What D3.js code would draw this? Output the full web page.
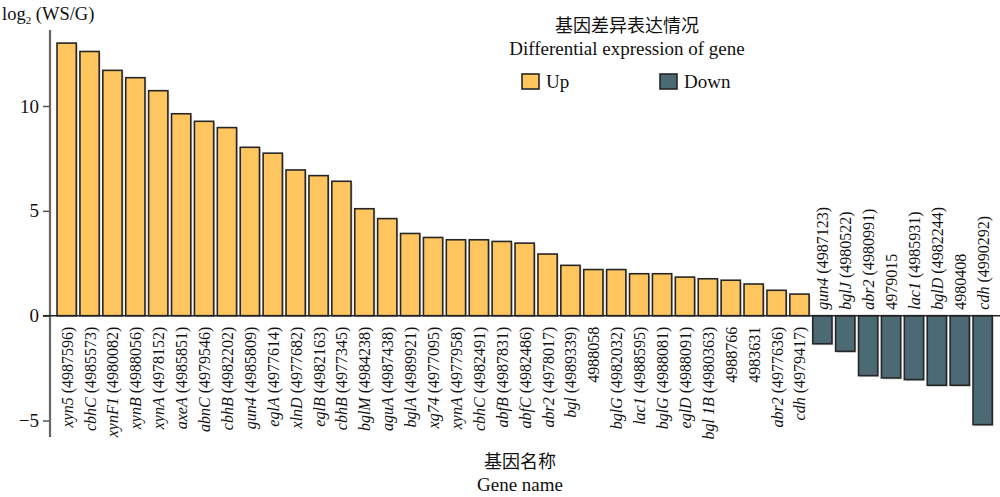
<!DOCTYPE html>
<html><head><meta charset="utf-8">
<script src="https://cdn.jsdelivr.net/npm/d3@7"></script>
<style>body{margin:0;background:#fff}svg{display:block}</style>
</head><body>
<svg id="c" width="1000" height="497"></svg>
<script>
const geneNames = ["xyn5","cbhC","xynF1","xynB","xynA","axeA","abnC","cbhB","gun4","eglA","xlnD","eglB","cbhB","bglM","aguA","bglA","xg74","xynA","cbhC","abfB","abfC","abr2","bgl","","bglG","lac1","bglG","eglD","bgl 1B","","","abr2","cdh",
  "gun4","bglJ","abr2","","lac1","bglD","","cdh"];
const geneIds = ["4987596","4985573","4980082","4988056","4978152","4985851","4979546","4982202","4985809","4977614","4977682","4982163","4977345","4984238","4987438","4989921","4977095","4977958","4982491","4987831","4982486","4978017","4989339","4988058","4982032","4988595","4988081","4988091","4980363","4988766","4983631","4977636","4979417",
  "4987123","4980522","4980991","4979015","4985931","4982244","4980408","4990292"];
const values = [13.0,12.6,11.7,11.35,10.73,9.63,9.27,8.97,8.03,7.75,6.95,6.68,6.41,5.1,4.63,3.92,3.73,3.62,3.62,3.54,3.46,2.94,2.40,2.2,2.2,2.0,2.0,1.84,1.76,1.69,1.51,1.21,1.03,
  -1.34,-1.70,-2.86,-2.97,-3.05,-3.32,-3.32,-5.2];
const yTicks = [-5,0,5,10];
const legendItems = ["Up","Down"];
const colors = {Up:"#FFC660", Down:"#4B6A74"};

const svg = d3.select("#c");
const font = "'Liberation Serif','Times New Roman',serif";
const cjk = "'Noto Sans CJK SC','Noto Serif CJK SC',serif";

const y = d3.scaleLinear().domain([-5,10]).range([420.5,106]);
const x = d3.scaleBand().domain(d3.range(values.length)).range([55.2,994.1]).paddingInner(0.16).paddingOuter(0.08);

// axis
const axisX = 50;
const ax = svg.append("g").attr("transform",`translate(${axisX},0)`)
  .call(d3.axisLeft(y).tickValues(yTicks).tickSize(7).tickPadding(4).tickFormat(d=>d<0?"\u2212"+Math.abs(d):d));
ax.select(".domain").remove();
ax.selectAll("line").attr("stroke","#555").attr("stroke-width",1.5);
ax.selectAll("text").attr("font-family",font).attr("font-size",19).attr("fill","#111");
svg.append("line").attr("x1",axisX).attr("x2",axisX).attr("y1",30).attr("y2",437)
  .attr("stroke","#666").attr("stroke-width",2.2);

// shadows
svg.append("g").selectAll("rect").data(values).join("rect")
  .attr("x",(d,i)=>x(i)+1.5).attr("width",x.bandwidth())
  .attr("y",d=>Math.min(y(d),y(0))+1.5).attr("height",d=>Math.abs(y(d)-y(0)))
  .attr("fill","#bbb").attr("opacity",0.6);
// bars
svg.append("g").selectAll("rect").data(values).join("rect")
  .attr("x",(d,i)=>x(i)).attr("width",x.bandwidth())
  .attr("y",d=>Math.min(y(d),y(0))).attr("height",d=>Math.abs(y(d)-y(0)))
  .attr("fill",d=>d>=0?colors.Up:colors.Down)
  .attr("stroke","#262626").attr("stroke-width",1.6);

// baseline
svg.append("line").attr("x1",43).attr("x2",1000).attr("y1",y(0)).attr("y2",y(0))
  .attr("stroke","#222").attr("stroke-width",1.5);

// labels
const lab = svg.append("g").selectAll("text").data(values).join("text")
  .attr("transform",(d,i)=>{
    const cx = x(i)+x.bandwidth()/2+6;
    return d>=0 ? `translate(${cx},${y(0)+11}) rotate(-90)` : `translate(${cx},${y(0)-6}) rotate(-90)`;
  })
  .attr("text-anchor",d=>d>=0?"end":"start")
  .attr("font-family",font).attr("font-size",16).attr("fill","#111");
lab.each(function(d,i){
  const t = d3.select(this);
  if(geneNames[i]){
    t.append("tspan").attr("font-style","italic").text(geneNames[i]);
    t.append("tspan").text(" ("+geneIds[i]+")");
  } else {
    t.append("tspan").text(geneIds[i]);
  }
});

// y title
const yt = svg.append("text").attr("x",2).attr("y",20).attr("font-family",font).attr("font-size",18.5).attr("fill","#111");
yt.append("tspan").text("log");
yt.append("tspan").attr("font-size",11).attr("dy",4).text("2");
yt.append("tspan").attr("dy",-4).text(" (WS/G)");

// x title
svg.append("text").attr("x",520).attr("y",468).attr("text-anchor","middle").attr("font-family",cjk).attr("font-size",18).attr("fill","#111").text("基因名称");
svg.append("text").attr("x",520).attr("y",491).attr("text-anchor","middle").attr("font-family",font).attr("font-size",19).attr("fill","#111").text("Gene name");

// legend
svg.append("text").attr("x",627).attr("y",32).attr("text-anchor","middle").attr("font-family",cjk).attr("font-size",18).attr("fill","#111").text("基因差异表达情况");
svg.append("text").attr("x",627).attr("y",55).attr("text-anchor","middle").attr("font-family",font).attr("font-size",19).attr("fill","#111").text("Differential expression of gene");
const lx = [522,660];
const lg = svg.append("g").selectAll("g").data(legendItems).join("g")
  .attr("transform",(d,i)=>`translate(${lx[i]},74)`);
lg.append("rect").attr("width",17).attr("height",15).attr("fill",d=>colors[d]).attr("stroke","#262626").attr("stroke-width",1.6);
lg.append("text").attr("x",24).attr("y",14).attr("font-family",font).attr("font-size",19).attr("fill","#111").text(d=>d);
</script>
</body></html>
